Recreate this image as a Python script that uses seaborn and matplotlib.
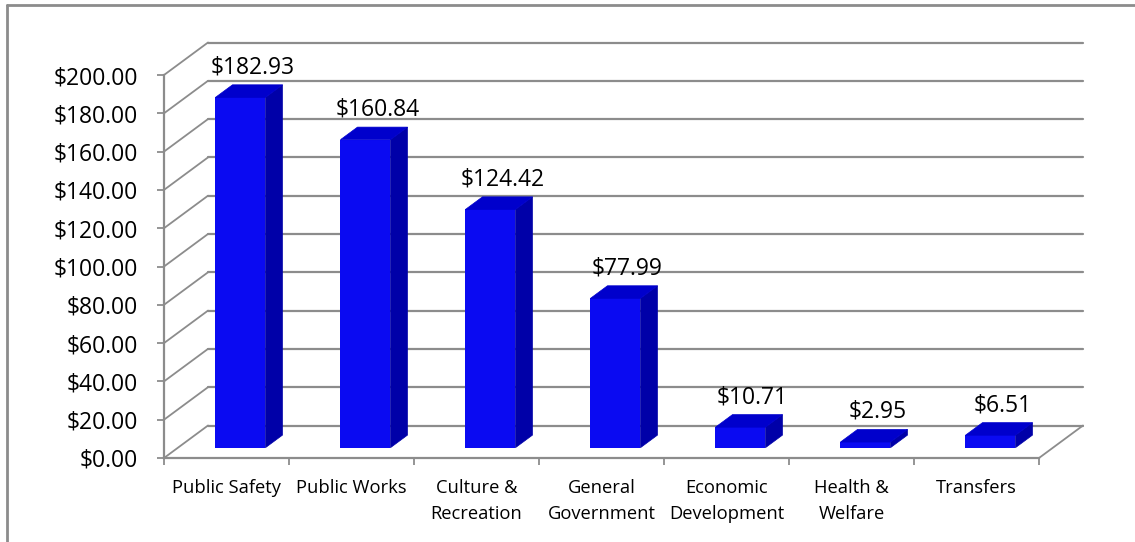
import matplotlib
matplotlib.use("Agg")
import matplotlib.pyplot as plt
import seaborn as sns
import numpy as np
from matplotlib.transforms import ScaledTranslation, IdentityTransform
from matplotlib.patches import Polygon
from matplotlib.lines import Line2D

# Per-capita spending by function
categories = ["Public Safety", "Public Works", "Culture &\nRecreation",
              "General\nGovernment", "Economic\nDevelopment", "Health &\nWelfare",
              "Transfers"]
spend = [182.93, 160.84, 124.42, 77.99, 10.71, 2.95, 6.51]
y_ticks = [0, 20, 40, 60, 80, 100, 120, 140, 160, 180, 200]
y_tick_labels = [f"${v:.2f}" for v in y_ticks]
value_labels = [f"${v:.2f}" for v in spend]

FRONT = "#0a0af2"
SIDE = "#0000a8"
TOP = "#0000cc"
GRID = "#8c8c8c"

sns.set_theme(style="white")
plt.rcParams["font.family"] = ["Open Sans", "DejaVu Sans"]

DPI = 100
W, H = 1135, 542
fig = plt.figure(figsize=(W / DPI, H / DPI), dpi=DPI)
fig.patch.set_facecolor("white")
ax = fig.add_axes([164 / W, 1 - 458 / H, 875 / W, 383 / H])
ax.patch.set_alpha(0)

# depth direction of the pseudo-3D box, in display pixels
DEPTH = np.array([44.0, 32.5])
BAR_FRONT = 0.318   # depth position of the bar front faces
BAR_DEPTH = 0.386   # bar thickness along the depth direction
BAR_W = 0.4

sns.barplot(x=categories, y=spend, width=BAR_W, color=FRONT, saturation=1,
            linewidth=0, ax=ax, zorder=3)
n = len(categories)
ax.set_xlim(-0.5, n - 0.5)
ax.set_ylim(0, 200)

fig.canvas.draw()


def to_px(x, y, d):
    return ax.transData.transform((x, y)) + d * DEPTH


# shift the front faces back into the box
shift = ScaledTranslation(BAR_FRONT * DEPTH[0] / DPI, BAR_FRONT * DEPTH[1] / DPI,
                          fig.dpi_scale_trans)
for p in ax.patches:
    p.set_transform(ax.transData + shift)
    p.set_clip_on(False)

ident = IdentityTransform()

# back wall gridlines and left wall diagonals
for v in y_ticks:
    a = to_px(-0.5, v, 1.0)
    b = to_px(n - 0.5, v, 1.0)
    ax.add_artist(Line2D([a[0], b[0]], [a[1], b[1]], transform=ident,
                         color=GRID, lw=1.6, clip_on=False, zorder=1))
    c = to_px(-0.5, v, 0.0)
    ax.add_artist(Line2D([c[0], a[0]], [c[1], a[1]], transform=ident,
                         color=GRID, lw=1.3, clip_on=False, zorder=1))

# right edge of the floor
f0 = to_px(n - 0.5, 0, 0.0)
f1 = to_px(n - 0.5, 0, 1.0)
ax.add_artist(Line2D([f0[0], f1[0]], [f0[1], f1[1]], transform=ident,
                     color=GRID, lw=1.3, clip_on=False, zorder=1))

# side and top faces of each bar
d0, d1 = BAR_FRONT, BAR_FRONT + BAR_DEPTH
for i, v in enumerate(spend):
    x0, x1 = i - BAR_W / 2, i + BAR_W / 2
    side = [to_px(x1, 0, d0), to_px(x1, v, d0), to_px(x1, v, d1), to_px(x1, 0, d1)]
    top = [to_px(x0, v, d0), to_px(x1, v, d0), to_px(x1, v, d1), to_px(x0, v, d1)]
    ax.add_artist(Polygon(side, closed=True, transform=ident, facecolor=SIDE,
                          edgecolor=SIDE, lw=0.5, clip_on=False, zorder=3))
    ax.add_artist(Polygon(top, closed=True, transform=ident, facecolor=TOP,
                          edgecolor=TOP, lw=0.5, clip_on=False, zorder=3))
    lx = to_px(i, v, d0 + BAR_DEPTH * 0.7)[0]
    ly = to_px(i, v, d1)[1] + 17.5
    ax.text(lx, ly, value_labels[i], transform=ident, ha="center", va="center",
            fontsize=16.5, color="black", zorder=5, clip_on=False)

# axes styling
for s in ["top", "right"]:
    ax.spines[s].set_visible(False)
for s in ["left", "bottom"]:
    ax.spines[s].set_color(GRID)
    ax.spines[s].set_linewidth(1.6)
    ax.spines[s].set_zorder(2)

ax.set_yticks(y_ticks)
ax.set_yticklabels(y_tick_labels)
ax.tick_params(axis="y", which="major", left=True, length=5, width=1.3,
               color=GRID, pad=13.5, labelsize=16.5, labelcolor="black")

ax.set_xticks(range(n))
ax.set_xticklabels(categories, fontsize=13.2, linespacing=1.55, color="black")
ax.set_xticks(np.arange(-0.5, n, 1.0), minor=True)
ax.tick_params(axis="x", which="major", bottom=True, length=0, pad=15)
ax.tick_params(axis="x", which="minor", bottom=True, length=5, width=1.3, color=GRID)
ax.set_xlabel("")
ax.set_ylabel("")

# chart frame
fig.add_artist(Line2D([7 / W, 7 / W], [0, 1 - 5 / H], transform=fig.transFigure,
                      color=GRID, lw=2))
fig.add_artist(Line2D([7 / W, 1], [1 - 5 / H, 1 - 5 / H], transform=fig.transFigure,
                      color=GRID, lw=2))

fig.savefig("out.png", dpi=DPI)
